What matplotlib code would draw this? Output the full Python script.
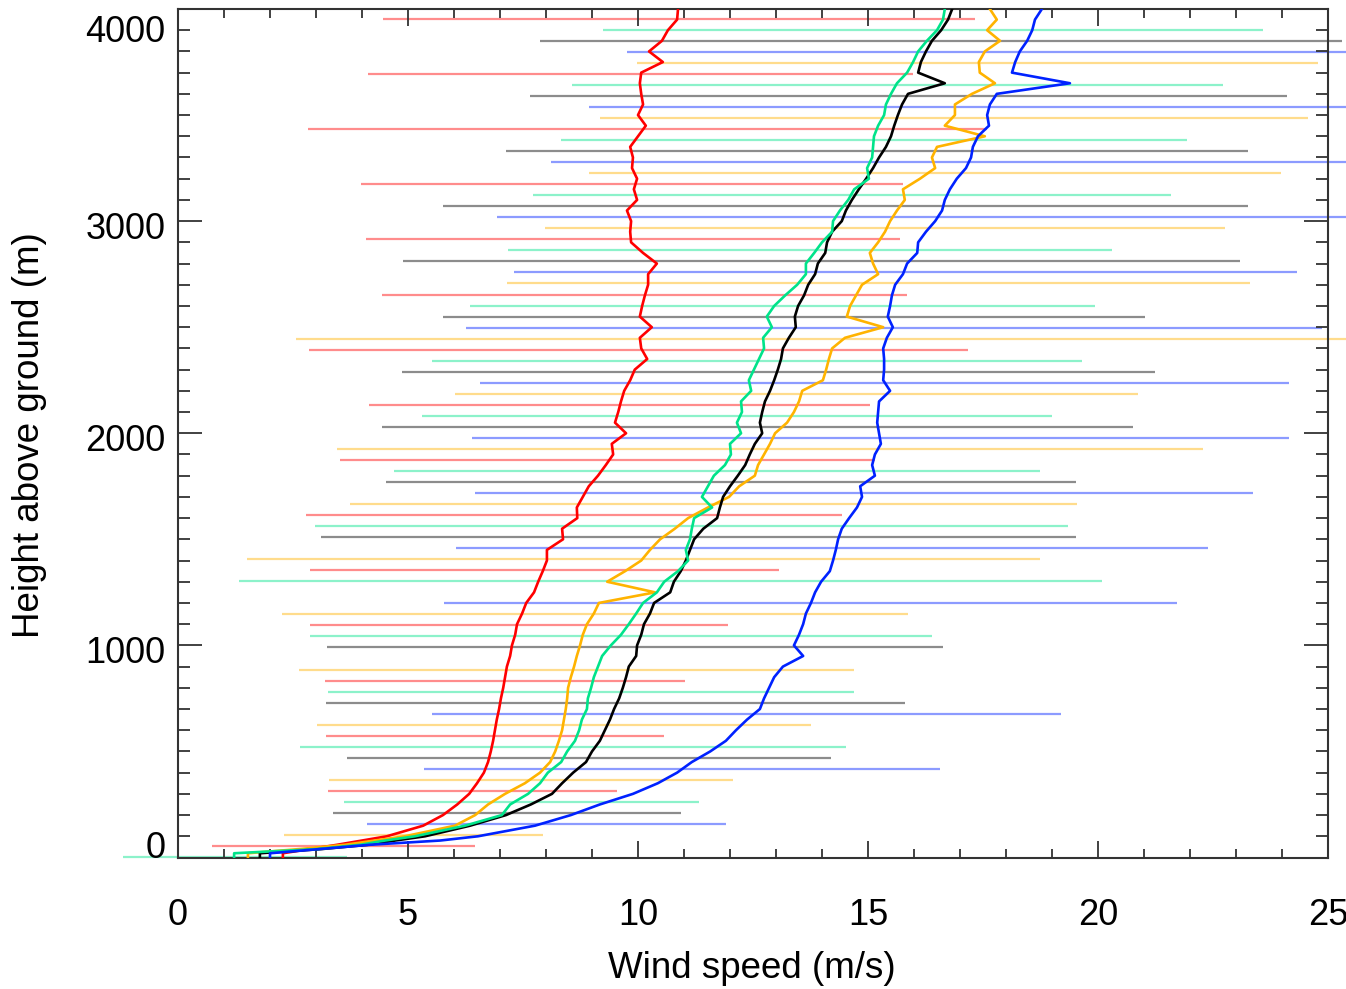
import matplotlib
matplotlib.use("Agg")
import matplotlib.pyplot as plt
import matplotlib.transforms as mtransforms
from matplotlib.ticker import MultipleLocator

plt.rcParams["font.family"] = ["Liberation Sans", "DejaVu Sans"]

# profile heights (m above ground), shared by all five profiles
height_m = [0, 20, 40, 60, 80, 100,
            150, 200, 250, 300, 350, 400, 450, 500,
            550, 600, 650, 700, 750, 800, 850, 900, 950, 1000,
            1050, 1100, 1150, 1200, 1250, 1300, 1350, 1400, 1450, 1500,
            1550, 1600, 1650, 1700, 1750, 1800, 1850, 1900, 1950, 2000,
            2050, 2100, 2150, 2200, 2250, 2300, 2350, 2400, 2450, 2500,
            2550, 2600, 2650, 2700, 2750, 2800, 2850, 2900, 2950, 3000,
            3050, 3100, 3150, 3200, 3250, 3300, 3350, 3400, 3450, 3500,
            3550, 3600, 3650, 3700, 3750, 3800, 3850, 3900, 3950, 4000]

# mean wind speed (m/s)
red_speed = [2.28, 2.28, 2.87, 3.46, 4.00, 4.54,
             5.33, 5.76, 6.07, 6.33, 6.50, 6.65, 6.74, 6.80,
             6.85, 6.89, 6.93, 6.98, 7.02, 7.07, 7.11, 7.15, 7.22, 7.26,
             7.33, 7.37, 7.48, 7.57, 7.74, 7.83, 7.93, 8.02, 8.02, 8.37,
             8.35, 8.68, 8.67, 8.80, 8.93, 9.13, 9.30, 9.46, 9.43, 9.74,
             9.50, 9.57, 9.63, 9.70, 9.83, 9.93, 10.20, 10.07, 10.04, 10.30,
             10.04, 10.09, 10.15, 10.22, 10.22, 10.41, 10.11, 9.85, 9.83, 9.85,
             9.76, 9.98, 9.91, 9.98, 9.87, 9.89, 9.83, 10.00, 10.17, 10.00,
             10.11, 10.07, 10.04, 10.07, 10.54, 10.24, 10.52, 10.65, 10.85, 10.87]

orange_speed = [1.52, 1.52, 2.65, 3.63, 4.28, 4.93,
                6.02, 6.46, 6.74, 7.11, 7.54, 7.87, 8.09, 8.20,
                8.28, 8.35, 8.39, 8.43, 8.46, 8.48, 8.54, 8.61, 8.67, 8.74,
                8.80, 8.89, 9.04, 9.15, 10.37, 9.33, 9.72, 10.07, 10.26, 10.48,
                10.80, 11.09, 11.52, 11.98, 12.20, 12.54, 12.61, 12.74, 12.87, 12.98,
                13.24, 13.39, 13.50, 13.57, 14.02, 14.09, 14.15, 14.22, 14.50, 15.33,
                14.54, 14.61, 14.74, 14.87, 15.22, 15.11, 15.04, 15.22, 15.37, 15.48,
                15.63, 15.80, 15.76, 16.13, 16.46, 16.39, 16.50, 17.54, 16.67, 16.89,
                16.89, 17.26, 17.76, 17.43, 17.41, 17.54, 17.87, 17.59, 17.80, 17.65]

green_speed = [1.22, 1.22, 3.04, 3.96, 4.50, 5.15,
               6.24, 7.04, 7.22, 7.61, 7.87, 8.04, 8.33, 8.46,
               8.63, 8.72, 8.78, 8.89, 8.91, 8.98, 9.04, 9.13, 9.22, 9.41,
               9.63, 9.80, 9.96, 10.11, 10.41, 10.57, 10.87, 11.09, 11.04, 11.13,
               11.17, 11.22, 11.61, 11.39, 11.52, 11.65, 11.89, 12.02, 12.00, 12.24,
               12.15, 12.26, 12.24, 12.46, 12.41, 12.52, 12.63, 12.74, 12.72, 12.91,
               12.80, 12.96, 13.20, 13.46, 13.65, 13.65, 13.83, 14.00, 14.22, 14.24,
               14.39, 14.57, 14.70, 15.02, 14.98, 15.09, 15.11, 15.13, 15.22, 15.35,
               15.39, 15.50, 15.63, 15.85, 15.98, 16.09, 16.28, 16.50, 16.63, 16.67]

black_speed = [1.78, 1.78, 3.13, 4.13, 4.72, 5.37,
               6.35, 7.13, 7.67, 8.13, 8.35, 8.59, 8.87, 9.00,
               9.17, 9.28, 9.39, 9.48, 9.59, 9.67, 9.74, 9.80, 9.96, 9.98,
               10.07, 10.13, 10.26, 10.35, 10.70, 10.78, 10.93, 11.04, 11.13, 11.22,
               11.42, 11.72, 11.78, 11.85, 12.00, 12.17, 12.33, 12.43, 12.54, 12.70,
               12.65, 12.70, 12.76, 12.87, 12.96, 13.04, 13.11, 13.15, 13.28, 13.43,
               13.41, 13.48, 13.61, 13.70, 13.85, 13.91, 14.07, 14.11, 14.22, 14.43,
               14.52, 14.65, 14.80, 14.96, 15.11, 15.24, 15.39, 15.50, 15.57, 15.65,
               15.74, 15.87, 16.67, 16.09, 16.15, 16.26, 16.39, 16.59, 16.74, 16.83]

blue_speed = [2.00, 2.00, 3.09, 4.17, 5.70, 6.52,
              7.76, 8.54, 9.17, 9.89, 10.43, 10.85, 11.17, 11.57,
              11.91, 12.13, 12.37, 12.65, 12.74, 12.85, 12.96, 13.15, 13.59, 13.39,
              13.50, 13.59, 13.65, 13.76, 13.85, 13.98, 14.17, 14.24, 14.30, 14.35,
              14.43, 14.59, 14.76, 14.87, 14.83, 15.15, 15.09, 15.15, 15.28, 15.24,
              15.20, 15.22, 15.24, 15.48, 15.33, 15.35, 15.35, 15.33, 15.41, 15.54,
              15.43, 15.48, 15.52, 15.59, 15.76, 15.85, 16.07, 16.09, 16.26, 16.46,
              16.61, 16.67, 16.78, 16.93, 17.13, 17.24, 17.28, 17.39, 17.63, 17.59,
              17.65, 17.80, 19.39, 18.13, 18.20, 18.30, 18.46, 18.57, 18.63, 18.78]

# spread bars: height, low end, high end (m/s)
red_bar_h = [54, 314, 574, 834, 1094, 1354, 1614, 1874, 2134, 2394, 2654, 2914, 3174, 3434, 3694, 3954]
red_bar_lo = [0.74, 3.26, 3.22, 3.20, 2.87, 2.87, 2.78, 3.52, 4.15, 2.85, 4.43, 4.09, 3.98, 2.83, 4.13, 4.46]
red_bar_hi = [6.46, 9.54, 10.57, 11.02, 11.96, 13.07, 14.43, 15.15, 15.04, 17.17, 15.85, 15.70, 15.76, 17.59, 15.98, 17.33]

orange_bar_h = [106, 366, 626, 886, 1146, 1406, 1666, 1926, 2186, 2446, 2706, 2966, 3226, 3486, 3746]
orange_bar_lo = [2.30, 3.28, 3.02, 2.63, 2.26, 1.50, 3.74, 3.46, 6.02, 2.57, 7.15, 7.98, 8.93, 9.17, 9.98]
orange_bar_hi = [7.93, 12.07, 13.76, 14.70, 15.87, 18.74, 19.54, 22.28, 20.87, 27.00, 23.30, 22.76, 23.98, 24.57, 24.78]

blue_bar_h = [158, 418, 678, 1198, 1458, 1718, 1978, 2238, 2498, 2758, 3018, 3278, 3538, 3798]
blue_bar_lo = [4.11, 5.35, 5.52, 5.78, 6.04, 6.46, 6.39, 6.57, 6.26, 7.30, 6.93, 8.11, 8.93, 9.76]
blue_bar_hi = [11.91, 16.57, 19.20, 21.72, 22.39, 23.37, 24.15, 24.15, 24.87, 24.33, 26.24, 26.24, 26.37, 26.85]

black_bar_h = [210, 470, 730, 990, 1510, 1770, 2030, 2290, 2550, 2810, 3070, 3330, 3590, 3850]
black_bar_lo = [3.37, 3.67, 3.22, 3.24, 3.11, 4.52, 4.43, 4.87, 5.76, 4.89, 5.76, 7.13, 7.65, 7.87]
black_bar_hi = [10.93, 14.20, 15.80, 16.63, 19.52, 19.52, 20.76, 21.24, 21.02, 23.09, 23.26, 23.26, 24.11, 25.30]

green_bar_h = [2, 262, 522, 782, 1042, 1302, 1562, 1822, 2082, 2342, 2602, 2862, 3122, 3382, 3642, 3902]
green_bar_lo = [-1.20, 3.61, 2.65, 3.26, 2.87, 1.33, 2.98, 4.70, 5.30, 5.52, 6.35, 7.17, 7.72, 8.33, 8.57, 9.24]
green_bar_hi = [3.67, 11.33, 14.52, 14.70, 16.39, 20.09, 19.35, 18.74, 19.00, 19.65, 19.93, 20.30, 21.59, 21.93, 22.72, 23.59]

RED = "#ff0000"
ORANGE = "#ffb300"
GREEN = "#00e38a"
BLACK = "#000000"
BLUE = "#0022ff"

series = [
    (RED, red_speed, red_bar_h, red_bar_lo, red_bar_hi),
    (ORANGE, orange_speed, orange_bar_h, orange_bar_lo, orange_bar_hi),
    (BLACK, black_speed, black_bar_h, black_bar_lo, black_bar_hi),
    (GREEN, green_speed, green_bar_h, green_bar_lo, green_bar_hi),
    (BLUE, blue_speed, blue_bar_h, blue_bar_lo, blue_bar_hi),
]

W, H = 1346, 989
fig = plt.figure(figsize=(W / 100, H / 100), dpi=100)
ax = fig.add_axes([178 / W, 1 - 857.5 / H, 1150 / W, 848.5 / H])

# spread bars first, not clipped (they run past the frame as in the original)
for colour, _, bh, lo, hi in series:
    ax.hlines(bh, lo, hi, colors=colour, alpha=0.45, linewidth=1.6,
              clip_on=False, zorder=1)

for colour, speed, *_ in series:
    ax.plot(speed, height_m, color=colour, linewidth=1.9, zorder=3)

ax.set_xlim(0, 25)
ax.set_ylim(0, 4000)
ax.set_xticks([0, 5, 10, 15, 20, 25])
ax.set_yticks([0, 1000, 2000, 3000, 4000])
ax.xaxis.set_minor_locator(MultipleLocator(1))
ax.yaxis.set_minor_locator(MultipleLocator(100))

ax.tick_params(which="both", direction="in", top=True, right=True,
               color="#333333", width=1.3, labelcolor="black")
ax.tick_params(axis="x", which="major", length=12, pad=29, labelsize=26)
ax.tick_params(axis="x", which="minor", length=6.5)
ax.tick_params(axis="y", which="major", length=17, pad=9, labelsize=26)
ax.tick_params(axis="y", which="minor", length=8.5)
for sp in ax.spines.values():
    sp.set_linewidth(1.5)
    sp.set_color("#333333")

# IDL nudges the end labels inward
for tick, dy in zip(ax.yaxis.get_major_ticks(), [13, -4, -4, -4, -19]):
    off = mtransforms.ScaledTranslation(0, dy / 100, fig.dpi_scale_trans)
    tick.label1.set_transform(tick.label1.get_transform() + off)

fig.text(752 / W, 1 - 968 / H, "Wind speed (m/s)", fontsize=26.5,
         ha="center", va="center")
fig.text(30 / W, 1 - 435 / H, "Height above ground (m)", fontsize=26.5,
         ha="center", va="center", rotation=90)

fig.savefig("out.png", dpi=100, facecolor="white")
